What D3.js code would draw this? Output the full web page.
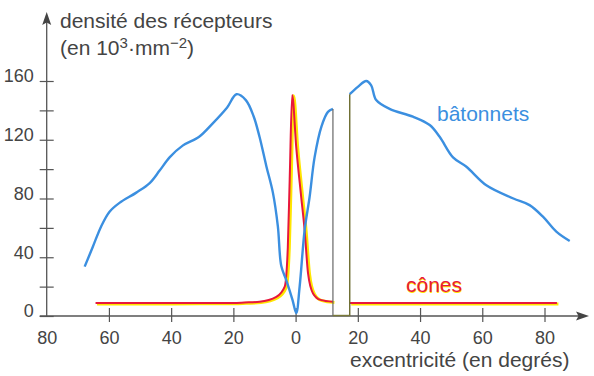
<!DOCTYPE html>
<html>
<head>
<meta charset="utf-8">
<script src="https://cdn.jsdelivr.net/npm/d3@7"></script>
<style>
  body { margin: 0; background: #fff; }
  svg { font-family: "Liberation Sans", Arial, sans-serif; }
  .axis text { font-size: 18px; fill: #444; }
</style>
</head>
<body>
<script>
'use strict'

// batonnets (rods), split by the blind spot
const rodsLeftX = [-67.8, -65.2, -62.5, -59.8, -56.6, -51.2, -46.9, -43.7, -40.5, -36.3, -31, -26.7, -22, -19, -16, -13.5, -11.6, -9.4, -7.3, -5.7, -4.6, -3, -1, 0.2, 1.3, 2.9, 4.5, 6.1, 8.3, 10.4, 12];
const rodsLeftY = [33.6, 47, 61, 71, 77, 84, 90.5, 99, 108, 116, 122, 131, 142, 151, 147, 136, 122, 102, 84, 61, 34, 24.5, 11, 2, 20, 58.5, 81, 108, 129, 139, 141];
const rodsRightX = [17.4, 20, 22.7, 24.3, 25.9, 30.2, 37.7, 43.1, 46.3, 50.6, 54.9, 61.3, 70, 75.2, 79.5, 83.8, 88.1];
const rodsRightY = [151, 156, 160, 157, 147, 141, 135.7, 130, 122, 108, 101.6, 89, 80, 75.5, 67.6, 57.4, 51];

// cones, split by the blind spot
const conesLeftX = [-64.3, -40, -20, -16.4, -11.6, -6.2, -3.5, -2.5, -1.9, -1.1, 0.2, 1.8, 2.9, 4, 5.6, 8, 12];
const conesLeftY = [8.8, 8.8, 8.9, 9.2, 9.7, 13, 20, 47, 93, 150.5, 115, 81, 58.5, 29, 15.4, 11, 9.7];
const conesRightX = [17.4, 40, 60, 84];
const conesRightY = [8.8, 8.8, 8.8, 8.8];

const blindStart = 12;
const blindEnd = 17.4;

const xTicks = [-80, -60, -40, -20, 0, 20, 40, 60, 80];
const yTicks = [0, 20, 40, 60, 80, 100, 120, 140, 160];
const yLabelled = [0, 40, 80, 120, 160];

const w = 594;
const h = 376;

const x = d3.scaleLinear().domain([-80, 80]).range([46.7, 544.5]);
const y = d3.scaleLinear().domain([0, 160]).range([316, 81]);

const svg = d3.select("body").append("svg")
	.attr("width", w)
	.attr("height", h);

const axisColor = "#555";

// x axis
const xAxis = d3.axisBottom(x)
	.tickValues(xTicks)
	.tickFormat(d => Math.abs(d))
	.tickSize(0);

const gx = svg.append("g")
	.attr("class", "axis")
	.attr("transform", "translate(0," + y(0) + ")")
	.call(xAxis);
gx.select(".domain").remove();
gx.selectAll(".tick line")
	.attr("y1", -8).attr("y2", 6)
	.attr("stroke", axisColor).attr("stroke-width", 1.2);
gx.selectAll(".tick").filter(d => d === -80).select("line").remove();
gx.selectAll(".tick text").attr("y", 28).attr("dy", 0);

// y axis
const yAxis = d3.axisLeft(y)
	.tickValues(yTicks)
	.tickFormat(d => yLabelled.includes(d) ? d : "")
	.tickSize(0);

const gy = svg.append("g")
	.attr("class", "axis")
	.attr("transform", "translate(" + x(-80) + ",0)")
	.call(yAxis);
gy.select(".domain").remove();
gy.selectAll(".tick line")
	.attr("x1", -7).attr("x2", 7)
	.attr("stroke", axisColor).attr("stroke-width", 1.2);
gy.selectAll(".tick text").attr("x", -13).attr("dy", "0.05em");

// axis lines with arrows
svg.append("line")
	.attr("x1", x(-80) - 7).attr("x2", 580)
	.attr("y1", y(0)).attr("y2", y(0))
	.attr("stroke", axisColor).attr("stroke-width", 1.3);
svg.append("path")
	.attr("d", "M589," + y(0) + " L576," + (y(0) - 4.5) + " L578.5," + y(0) + " L576," + (y(0) + 4.5) + " Z")
	.attr("fill", "#444");

svg.append("line")
	.attr("x1", x(-80)).attr("x2", x(-80))
	.attr("y1", y(0)).attr("y2", 22)
	.attr("stroke", axisColor).attr("stroke-width", 1.3);
svg.append("path")
	.attr("d", "M" + x(-80) + ",12 L" + (x(-80) - 4.5) + ",25 L" + x(-80) + ",22.5 L" + (x(-80) + 4.5) + ",25 Z")
	.attr("fill", "#444");

// curves
const line = d3.line()
	.x(d => x(d[0]))
	.y(d => y(d[1]))
	.curve(d3.curveMonotoneX);
const lineC = d3.line()
	.x(d => x(d[0]))
	.y(d => y(d[1]))
	.curve(d3.curveCatmullRom.alpha(0.5));

const zip = (a, b) => a.map((v, i) => [v, b[i]]);

// cones: yellow shadow then red
[[conesLeftX, conesLeftY], [conesRightX, conesRightY]].forEach(([cx, cy]) => {
	svg.append("path")
		.datum(zip(cx, cy))
		.attr("fill", "none")
		.attr("stroke", "#ffe600")
		.attr("stroke-width", 3)
		.attr("transform", "translate(1.5,0.8)")
		.attr("d", line);
	svg.append("path")
		.datum(zip(cx, cy))
		.attr("fill", "none")
		.attr("stroke", "#e8173c")
		.attr("stroke-width", 2)
		.attr("d", line);
});

// rods
[[rodsLeftX, rodsLeftY], [rodsRightX, rodsRightY]].forEach(([rx, ry]) => {
	svg.append("path")
		.datum(zip(rx, ry))
		.attr("fill", "none")
		.attr("stroke", "#3b8fe0")
		.attr("stroke-width", 2.4)
		.attr("stroke-linejoin", "round")
		.attr("d", lineC);
});

// blind spot
svg.append("line")
	.attr("x1", x(blindStart)).attr("x2", x(blindStart))
	.attr("y1", y(0)).attr("y2", y(rodsLeftY[rodsLeftY.length - 1]))
	.attr("stroke", "#666").attr("stroke-width", 1.2);
svg.append("line")
	.attr("x1", x(blindEnd)).attr("x2", x(blindEnd))
	.attr("y1", y(0)).attr("y2", y(rodsRightY[0]))
	.attr("stroke", "#6b6b2e").attr("stroke-width", 1.4);
svg.append("line")
	.attr("x1", x(blindStart)).attr("x2", x(blindEnd))
	.attr("y1", y(0) - 0.5).attr("y2", y(0) - 0.5)
	.attr("stroke", "#7a7a3a").attr("stroke-width", 1.4);

// texts
svg.append("text")
	.attr("x", 60).attr("y", 28)
	.attr("font-size", 21).attr("fill", "#444")
	.text("densité des récepteurs");

const unit = svg.append("text")
	.attr("x", 60).attr("y", 55)
	.attr("font-size", 21).attr("fill", "#444");
unit.append("tspan").text("(en 10");
unit.append("tspan").attr("dy", -7).attr("font-size", 15).text("3");
unit.append("tspan").attr("dy", 7).text("·mm");
unit.append("tspan").attr("dy", -7).attr("font-size", 15).text("−2");
unit.append("tspan").attr("dy", 7).text(")");

svg.append("text")
	.attr("x", 350).attr("y", 367)
	.attr("font-size", 21).attr("fill", "#444")
	.text("excentricité (en degrés)");

svg.append("text")
	.attr("x", 437).attr("y", 121)
	.attr("font-size", 21).attr("fill", "#3b8fe0")
	.text("bâtonnets");

svg.append("text")
	.attr("x", 406.5).attr("y", 292.5)
	.attr("font-size", 21).attr("fill", "#ffe600")
	.text("cônes");
svg.append("text")
	.attr("x", 406).attr("y", 292)
	.attr("font-size", 21).attr("fill", "#e8173c")
	.text("cônes");
</script>
</body>
</html>
